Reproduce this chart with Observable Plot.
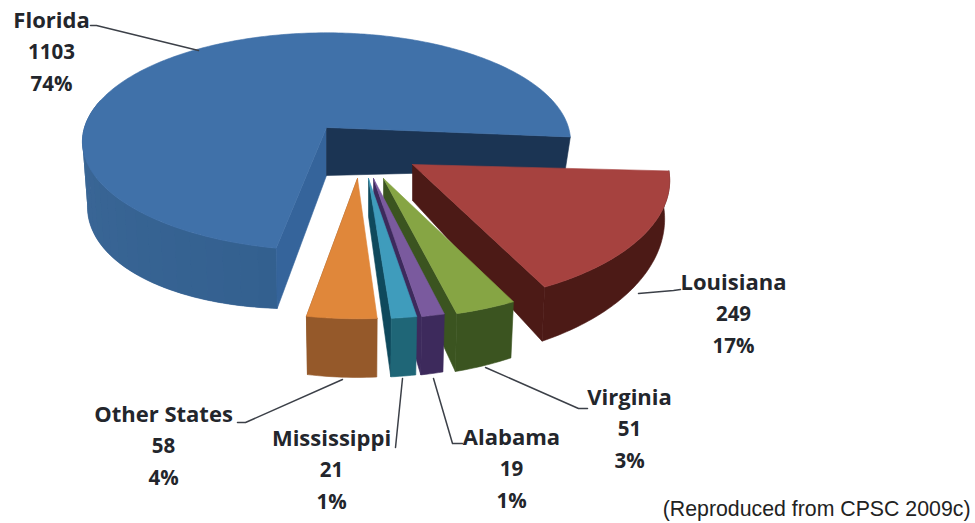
<!DOCTYPE html>
<html>
<head>
<meta charset="utf-8">
<script src="https://cdn.jsdelivr.net/npm/d3@7"></script>
<script src="https://cdn.jsdelivr.net/npm/@observablehq/plot@0.6"></script>
<style>
html,body{margin:0;padding:0;background:#fff}
svg{display:block}
</style>
</head>
<body>
<div id="chart"></div>
<script>
// Data
const states = ["Florida", "Louisiana", "Virginia", "Alabama", "Mississippi", "Other States"];
const counts = [1103, 249, 51, 19, 21, 58];
const percents = ["74%", "17%", "3%", "1%", "1%", "4%"];

// Colours: top face, edge wall, outer wall
const topColors = ["#4071a9", "#a6423f", "#86a544", "#7a5a9e", "#3f9cbc", "#e0873a"];
const edgeColors = ["#35649b", "#4c1a16", "#3b5420", "#3d2a5c", "#0f495c", "#8a5424"];
const wallColors = ["#3a6596", "#4c1a16", "#3b5420", "#3d2a5c", "#1f6677", "#95592a"];
const navy = "#1b3453";

// Camera model for the tilted pie
const startAngle = -5;
const perspective = 0.13;
const mainTop = {ax: 326, ay: 127, R: 242, B: 107, shear: 0};
const mainBottom = {ax: 326, ay: 175, R: 237, B: 115, shear: -16};
const explodedApex = [null, [412, 164], [383, 178], [373, 178], [368, 178], [357, 178]];
const explodedDepth = [null, 36, 38, 38, 38, 38];
const explodedTurn = [0, 2, 1.5, 1, 1, 0.4];

// Label layout
const labelAnchors = [[51, 20], [733, 282], [629, 397], [511, 437], [331, 438], [163, 414]];
const labelStep = 32;
const nameSize = 22;
const valueSize = 20.5;
const leaders = [
  [[90, 25], [96, 25], [198, 50]],
  [[680, 289], [673, 290], [638, 293]],
  [[587, 408], [578, 408], [485, 367]],
  [[462, 443], [452, 443], [433, 378]],
  [[395, 447], [402, 378]],
  [[237, 422], [245, 422], [342, 379]]
];
const caption = "(Reproduced from CPSC 2009c)";

const total = d3.sum(counts);
const sweep = counts.map(c => c / total * 360);

function project(plane, angle) {
  const a = angle * Math.PI / 180;
  const u = Math.cos(a), v = -Math.sin(a);
  const s = 1 / (1 - perspective * v);
  return [plane.ax + plane.R * u * s, plane.ay + (plane.B * v + plane.shear * u) * s];
}
const apex = plane => [plane.ax, plane.ay];
const arc = (plane, a0, a1, step = 1) => {
  const n = Math.max(2, Math.ceil(Math.abs(a1 - a0) / step));
  return d3.range(n + 1).map(i => project(plane, a0 + (a1 - a0) * i / n));
};
const polygons = [];
const addPoly = (points, fill, stroke = fill) => polygons.push({points: [...points, points[0]], fill, stroke});

// Florida, sweeping counter-clockwise from the start angle
{
  const end = startAngle + sweep[0];
  const wallRamp = d3.interpolateRgb("#3c6898", "#33608f");
  const from = 165, n = 24;
  addPoly([...arc(mainTop, from, end), ...arc(mainBottom, end, from)], wallColors[0]);
  d3.range(n).forEach(i => {
    const a0 = from + (end - from) * i / n, a1 = from + (end - from) * (i + 1) / n;
    addPoly([...arc(mainTop, a0, a1), ...arc(mainBottom, a1, a0)], wallRamp(i / n), "none");
  });
  addPoly([apex(mainTop), project(mainTop, end), project(mainBottom, end), apex(mainBottom)], edgeColors[0]);
  addPoly([apex(mainTop), project(mainTop, startAngle), project(mainBottom, startAngle), apex(mainBottom)], navy);
  addPoly([apex(mainTop), ...arc(mainTop, startAngle, end)], topColors[0]);
}

// The five exploded slices, clockwise, each drawn over the one before it
let cursor = startAngle;
for (let i = 1; i < states.length; i++) {
  const a0 = cursor + explodedTurn[i], a1 = cursor - sweep[i] + explodedTurn[i];
  cursor -= sweep[i];
  const [ax, ay] = explodedApex[i];
  const top = {ax, ay, R: 255, B: 122, shear: 0};
  const bottom = {ax, ay: ay + explodedDepth[i], R: 250, B: 140, shear: 0};
  addPoly([apex(top), project(top, a1), project(bottom, a1), apex(bottom)], edgeColors[i]);
  addPoly([...arc(top, a0, a1), ...arc(bottom, a1, a0)], wallColors[i]);
  addPoly([apex(top), ...arc(top, a0, a1)], topColors[i]);
}

const labelRows = states.flatMap((state, i) => [state, String(counts[i]), percents[i]].map((text, k) => ({
  text, x: labelAnchors[i][0], y: labelAnchors[i][1] + k * labelStep, size: k === 0 ? nameSize : valueSize
})));

const chart = Plot.plot({
  width: 975,
  height: 523,
  margin: 0,
  x: {domain: [0, 975], range: [0, 975], axis: null},
  y: {domain: [0, 523], range: [0, 523], axis: null},
  style: {background: "#fff"},
  marks: [
    ...polygons.map(p => Plot.line(p.points, {x: d => d[0], y: d => d[1], fill: p.fill, stroke: p.stroke, strokeWidth: 0.6})),
    ...leaders.map(l => Plot.line(l, {x: d => d[0], y: d => d[1], stroke: "#3c4048", strokeWidth: 1.5})),
    Plot.text(labelRows, {x: "x", y: "y", text: "text", fontFamily: "Open Sans", fontWeight: 700, fontSize: "size", fill: "#23262c", textAnchor: "middle", lineAnchor: "middle"}),
    Plot.text([caption], {x: 970, y: 509, text: d => d, fontFamily: "Liberation Sans", fontSize: 21.3, fill: "#222", textAnchor: "end", lineAnchor: "middle"})
  ]
});
document.getElementById("chart").append(chart);
</script>
</body>
</html>
